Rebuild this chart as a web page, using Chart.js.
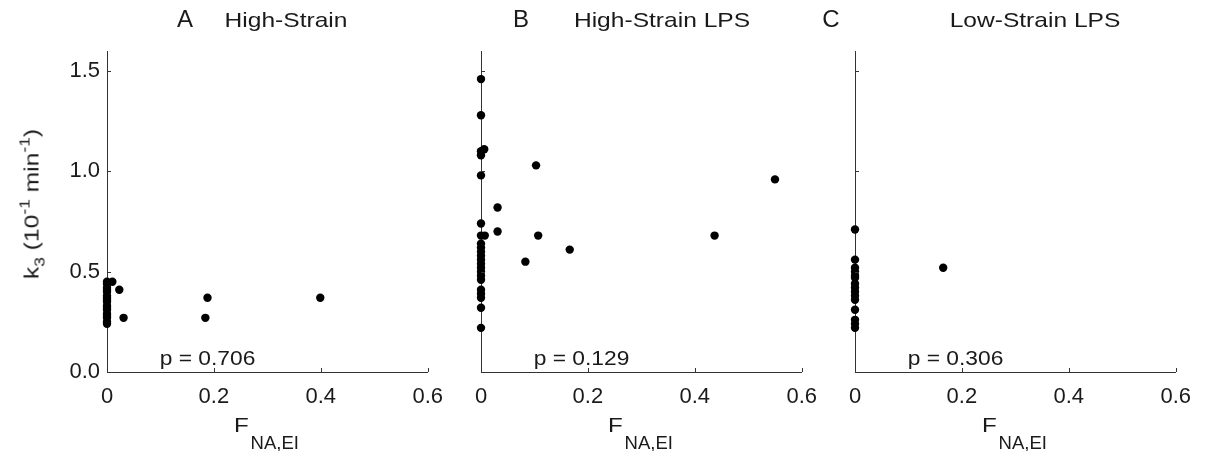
<!DOCTYPE html>
<html>
<head>
<meta charset="utf-8">
<script src="https://cdn.jsdelivr.net/npm/chart.js@4.4.1/dist/chart.umd.min.js"></script>
<style>
    html, body { margin: 0; padding: 0; background: #fff; overflow: hidden; }
    body { width: 1205px; height: 451px; position: relative; font-family: "Liberation Sans", Arial, sans-serif; color: #1a1a1a; }
    .panel { position: absolute; top: 0; width: 455px; height: 451px; }
    .txt { position: absolute; white-space: nowrap; line-height: 1; transform-origin: center; }
    .ylab sub, .ylab sup { line-height: 0; font-size: 15px; }
    .ylab sub { vertical-align: -6px; }
    .ylab sup { vertical-align: 9px; }
</style>
</head>
<body>
<div class="panel" style="left:0px"><canvas id="chartA"></canvas></div>
<div class="panel" style="left:374px"><canvas id="chartB"></canvas></div>
<div class="panel" style="left:748px"><canvas id="chartC"></canvas></div>
<div id="labels"></div>
<script>
// ============================================================================
// k3 vs F_NA,EI SCATTER PANELS
// ============================================================================

// axis ticks
const xTickValues = [0, 0.2, 0.4, 0.6];
const yTickValues = [0, 0.5, 1.0, 1.5];

// panel A: High-Strain
const highStrainF = [0, 0, 0, 0, 0, 0, 0, 0, 0, 0, 0, 0, 0, 0, 0, 0, 0,
    0.010, 0.023, 0.031, 0.184, 0.188, 0.399];
const highStrainK = [0.24, 0.25, 0.27, 0.28, 0.29, 0.31, 0.32, 0.33, 0.35, 0.36, 0.37, 0.38, 0.40, 0.41, 0.42, 0.44, 0.45,
    0.45, 0.41, 0.27, 0.27, 0.37, 0.37];

// panel B: High-Strain LPS
const highLpsF = [0, 0, 0, 0, 0, 0, 0, 0, 0, 0, 0, 0, 0, 0, 0, 0, 0, 0, 0, 0, 0, 0,
    0.006, 0.007, 0.031, 0.031, 0.083, 0.103, 0.107, 0.166, 0.437, 0.550];
const highLpsK = [1.46, 1.28, 1.10, 1.08, 0.98, 0.74, 0.68, 0.64, 0.62, 0.60, 0.58, 0.56, 0.54, 0.52, 0.50, 0.48, 0.46, 0.41, 0.39, 0.37, 0.32, 0.22,
    1.11, 0.68, 0.82, 0.70, 0.55, 1.03, 0.68, 0.61, 0.68, 0.96];

// panel C: Low-Strain LPS
const lowLpsF = [0, 0, 0, 0, 0, 0, 0, 0, 0, 0, 0, 0, 0, 0, 0, 0.165];
const lowLpsK = [0.71, 0.56, 0.52, 0.50, 0.48, 0.47, 0.44, 0.42, 0.40, 0.38, 0.36, 0.31, 0.26, 0.24, 0.22, 0.52];

const pValues = ['p = 0.706', 'p = 0.129', 'p = 0.306'];
const panelLetters = ['A', 'B', 'C'];
const panelTitles = ['High-Strain', 'High-Strain LPS', 'Low-Strain LPS'];

const TEXT_COLOR = '#1a1a1a';
const AXIS_COLOR = '#333333';
const FONT = '"Liberation Sans", Arial, sans-serif';

// small inward tick marks (MATLAB style) + p-value text
const inwardTicks = {
    id: 'inwardTicks',
    afterDatasetsDraw(chart, args, opts) {
        const { ctx, chartArea, scales } = chart;
        ctx.save();
        ctx.strokeStyle = AXIS_COLOR;
        ctx.lineWidth = 1;
        ctx.beginPath();
        scales.x.ticks.forEach(t => {
            const px = Math.round(scales.x.getPixelForValue(t.value)) + 0.5;
            ctx.moveTo(px, chartArea.bottom);
            ctx.lineTo(px, chartArea.bottom - 4);
        });
        scales.y.ticks.forEach(t => {
            const py = Math.round(scales.y.getPixelForValue(t.value)) + 0.5;
            ctx.moveTo(chartArea.left, py);
            ctx.lineTo(chartArea.left + 4, py);
        });
        ctx.stroke();

        if (opts.text) {
            const px = scales.x.getPixelForValue(0.188);
            const py = scales.y.getPixelForValue(0.035);
            ctx.translate(px, py);
            ctx.scale(1.14, 1);
            ctx.font = '20px ' + FONT;
            ctx.fillStyle = TEXT_COLOR;
            ctx.textAlign = 'center';
            ctx.textBaseline = 'alphabetic';
            ctx.fillText(opts.text, 0, 0);
        }
        ctx.restore();
    }
};

function makePanel(canvasId, fValues, kValues, pText, showYLabels) {
    const ctx = document.getElementById(canvasId).getContext('2d');
    const points = fValues.map((f, i) => ({ x: f, y: kValues[i] }));

    return new Chart(ctx, {
        type: 'scatter',
        data: {
            datasets: [{
                data: points,
                backgroundColor: '#000',
                borderWidth: 0,
                pointRadius: 4.2,
                pointHoverRadius: 4.2,
                clip: false
            }]
        },
        options: {
            responsive: true,
            maintainAspectRatio: false,
            animation: false,
            events: [],
            layout: { padding: { top: 51, right: 23, left: 0, bottom: 0 } },
            plugins: {
                legend: { display: false },
                tooltip: { enabled: false },
                inwardTicks: { text: pText }
            },
            scales: {
                x: {
                    type: 'linear',
                    min: 0,
                    max: 0.6,
                    afterBuildTicks: s => { s.ticks = xTickValues.map(v => ({ value: v })); },
                    afterFit: s => { s.height = 79; },
                    grid: { display: false, drawTicks: false },
                    border: { display: true, color: AXIS_COLOR, width: 1 },
                    ticks: {
                        padding: 12,
                        color: TEXT_COLOR,
                        font: { family: FONT, size: 22 },
                        maxRotation: 0,
                        callback: v => (v === 0 ? '0' : v.toFixed(1))
                    }
                },
                y: {
                    type: 'linear',
                    min: 0,
                    max: 1.6,
                    afterBuildTicks: s => { s.ticks = yTickValues.map(v => ({ value: v })); },
                    afterFit: s => { s.width = 107; },
                    grid: { display: false, drawTicks: false },
                    border: { display: true, color: AXIS_COLOR, width: 1 },
                    ticks: {
                        display: showYLabels,
                        padding: 7,
                        color: TEXT_COLOR,
                        font: { family: FONT, size: 22 },
                        callback: v => v.toFixed(1)
                    }
                }
            }
        },
        plugins: [inwardTicks]
    });
}

makePanel('chartA', highStrainF, highStrainK, pValues[0], true);
makePanel('chartB', highLpsF, highLpsK, pValues[1], false);
makePanel('chartC', lowLpsF, lowLpsK, pValues[2], false);

// titles and axis labels as html text
const labels = document.getElementById('labels');
const offsets = [0, 374, 748];
const letterCenters = [185, 521, 831];
const titleCenters = [285.5, 662, 1035];
function addText(html, css, cls) {
    const d = document.createElement('div');
    d.className = 'txt ' + (cls || '');
    d.innerHTML = html;
    Object.assign(d.style, css);
    labels.appendChild(d);
    return d;
}
offsets.forEach((off, i) => {
    addText(panelLetters[i], { left: letterCenters[i] + 'px', top: '6.7px', fontSize: '24px', transform: 'translateX(-50%)' });
    addText(panelTitles[i], { left: titleCenters[i] + 'px', top: '9.2px', fontSize: '21px', transform: 'translateX(-50%) scaleX(1.17)' });
    addText('F', { left: (233.5 + off) + 'px', top: '414.2px', fontSize: '21px', transform: 'scaleX(1.15)', transformOrigin: 'left center' });
    addText('NA,EI', { left: (250.6 + off) + 'px', top: '434.3px', fontSize: '18.5px' });
});
addText('k<sub>3</sub> (10<sup>-1</sup> min<sup>-1</sup>)',
    { left: '31px', top: '203.5px', fontSize: '21px', transform: 'translate(-50%, -50%) rotate(-90deg) scaleX(1.17)' }, 'ylab');
</script>
</body>
</html>
